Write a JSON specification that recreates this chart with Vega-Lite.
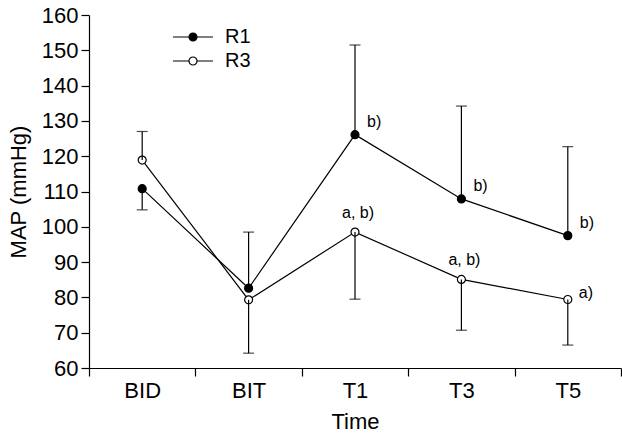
{
  "$schema": "https://vega.github.io/schema/vega-lite/v6.json",
  "width": 532,
  "height": 353,
  "autosize": {"type": "none"},
  "padding": {"left": 89, "top": 15, "right": 1, "bottom": 69},
  "background": "white",
  "config": {
    "view": {"stroke": null},
    "font": "Liberation Sans",
    "axis": {"domainColor": "black", "tickColor": "black", "labelColor": "black", "titleColor": "black", "grid": false, "titleFontWeight": "normal", "domainWidth": 1.2, "tickWidth": 1.2, "labelOverlap": false, "labelFont": "Liberation Sans", "titleFont": "Liberation Sans"}
  },
  "data": {
    "values": [
      {"time": "BID", "group": "R1", "mean": 110.8, "err": 104.8, "label": null},
      {"time": "BIT", "group": "R1", "mean": 82.6, "err": 98.5, "label": null},
      {"time": "T1", "group": "R1", "mean": 126.1, "err": 151.5, "label": "b)"},
      {"time": "T3", "group": "R1", "mean": 107.9, "err": 134.2, "label": "b)"},
      {"time": "T5", "group": "R1", "mean": 97.5, "err": 122.7, "label": "b)"},
      {"time": "BID", "group": "R3", "mean": 118.9, "err": 127.0, "label": null},
      {"time": "BIT", "group": "R3", "mean": 79.3, "err": 64.2, "label": null},
      {"time": "T1", "group": "R3", "mean": 98.5, "err": 79.5, "label": "a, b)"},
      {"time": "T3", "group": "R3", "mean": 85.1, "err": 70.7, "label": "a, b)"},
      {"time": "T5", "group": "R3", "mean": 79.4, "err": 66.5, "label": "a)"}
    ]
  },
  "encoding": {
    "x": {
      "field": "time", "type": "nominal", "sort": ["BID", "BIT", "T1", "T3", "T5"],
      "scale": {"type": "band", "paddingInner": 0, "paddingOuter": 0},
      "axis": {"title": "Time", "labelAngle": 0, "labelFontSize": 22, "titleFontSize": 22, "tickBand": "extent", "tickSize": 8, "labelPadding": 4, "titlePadding": 10}
    },
    "y": {"field": "mean", "type": "quantitative", "scale": {"domain": [60, 160], "nice": false, "zero": false},
      "axis": {"title": "MAP (mmHg)", "values": [60, 70, 80, 90, 100, 110, 120, 130, 140, 150, 160], "labelOverlap": false, "labelFontSize": 22, "titleFontSize": 22, "tickSize": 8, "labelPadding": 3, "titlePadding": 11}}
  },
  "layer": [
    {
      "mark": {"type": "line", "color": "black", "strokeWidth": 1.2},
      "encoding": {
        "detail": {"field": "group"}
      }
    },
    {
      "mark": {"type": "point", "shape": "circle", "size": 64, "stroke": "black", "strokeWidth": 1.2, "opacity": 1, "filled": false},
      "encoding": {
        "fill": {"field": "group", "type": "nominal", "scale": {"domain": ["R1", "R3"], "range": ["black", "white"]},
          "legend": {"title": null, "orient": "none", "legendX": 94, "legendY": 12, "padding": 0,
            "symbolType": "M-5,0H-1M1,0H5M-1,0A1,1,0,1,1,1,0A1,1,0,1,1,-1,0Z",
            "symbolSize": 64, "symbolStrokeColor": "black", "symbolStrokeWidth": 1.2,
            "labelFontSize": 20, "labelFont": "Liberation Sans", "labelOffset": 22, "rowPadding": 4, "labelColor": "black"}}
      }
    },
    {
      "mark": {"type": "rule", "color": "black", "strokeWidth": 1.2},
      "encoding": {
        "y2": {"field": "err"}
      }
    },
    {
      "mark": {"type": "tick", "color": "black", "size": 11, "thickness": 1.2},
      "encoding": {
        "y": {"field": "err", "type": "quantitative"}
      }
    },
    {
      "transform": [{"filter": "datum.group === 'R1' && datum.label != null"}],
      "mark": {"type": "text", "fontSize": 16, "align": "left", "dx": 12, "dy": -13, "color": "black"},
      "encoding": {
        "text": {"field": "label"}
      }
    },
    {
      "transform": [{"filter": "datum.label === 'a, b)'"}],
      "mark": {"type": "text", "fontSize": 16, "align": "center", "dx": 3, "dy": -19, "color": "black"},
      "encoding": {
        "text": {"field": "label"}
      }
    },
    {
      "transform": [{"filter": "datum.label === 'a)'"}],
      "mark": {"type": "text", "fontSize": 16, "align": "left", "dx": 11, "dy": -7, "color": "black"},
      "encoding": {
        "text": {"field": "label"}
      }
    }
  ]
}
